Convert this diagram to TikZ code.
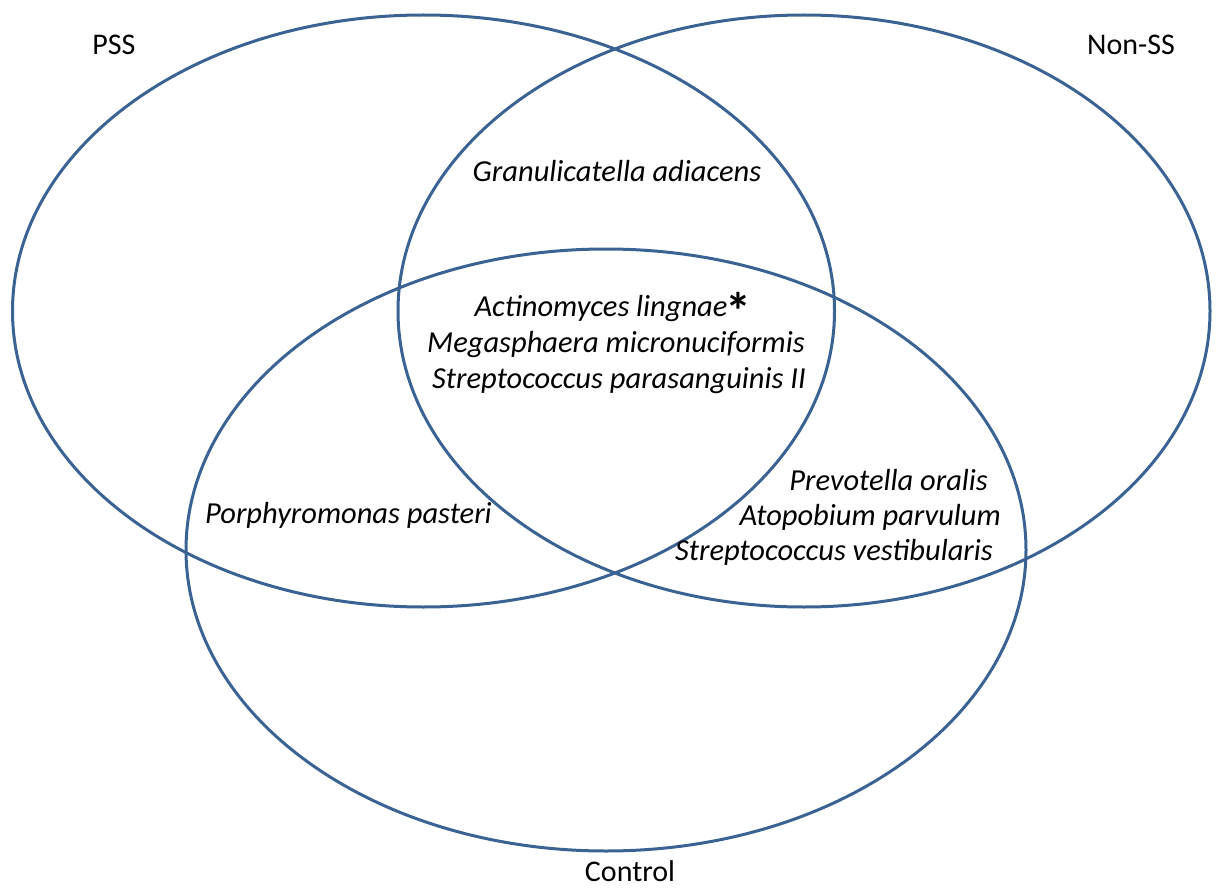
\documentclass[tikz,border=0pt]{standalone}
\usepackage{fontspec}
\setmainfont{Carlito}
\definecolor{vennblue}{RGB}{58,98,146}
\begin{document}
\begin{tikzpicture}[x=1pt,y=-1pt,
  ring/.style={draw=vennblue,line width=3pt},
  lbl/.style={font=\fontsize{30}{36}\selectfont,inner sep=0pt,anchor=base},
  sp/.style={font=\fontsize{30.5}{36}\selectfont\itshape,inner sep=0pt,anchor=base}]
\useasboundingbox (0,0) rectangle (1216,888);
\draw[ring] (423.5,311) ellipse [x radius=411, y radius=296];
\draw[ring] (804,311) ellipse [x radius=406, y radius=296];
\draw[ring] (606,550) ellipse [x radius=420, y radius=301];
\node[lbl] (pss) at (114,55) {PSS};
\node[lbl] (non) at (1131,55) {Non-SS};
\node[lbl] (ctl) at (630,881) {Control};
\node[sp] (gra) at (617,182) {Granulicatella adiacens};
\node[sp] (act) at (613,316) {Actinomyces lingnae\kern-2pt\smash{\raisebox{-13pt}{\upshape\bfseries\fontsize{52}{52}\selectfont*}}};
\node[sp,anchor=base west] (meg) at (427,352) {Megasphaera micronuciformis};
\node[sp,anchor=base west] (str) at (432,388) {Streptococcus parasanguinis II};
\node[sp,anchor=base west] (por) at (205,523) {Porphyromonas pasteri};
\node[sp,anchor=base east] (pre) at (988,490) {Prevotella oralis};
\node[sp,anchor=base east] (ato) at (1001,525) {Atopobium parvulum};
\node[sp,anchor=base east] (ves) at (993,560) {Streptococcus vestibularis};
\end{tikzpicture}
\end{document}
